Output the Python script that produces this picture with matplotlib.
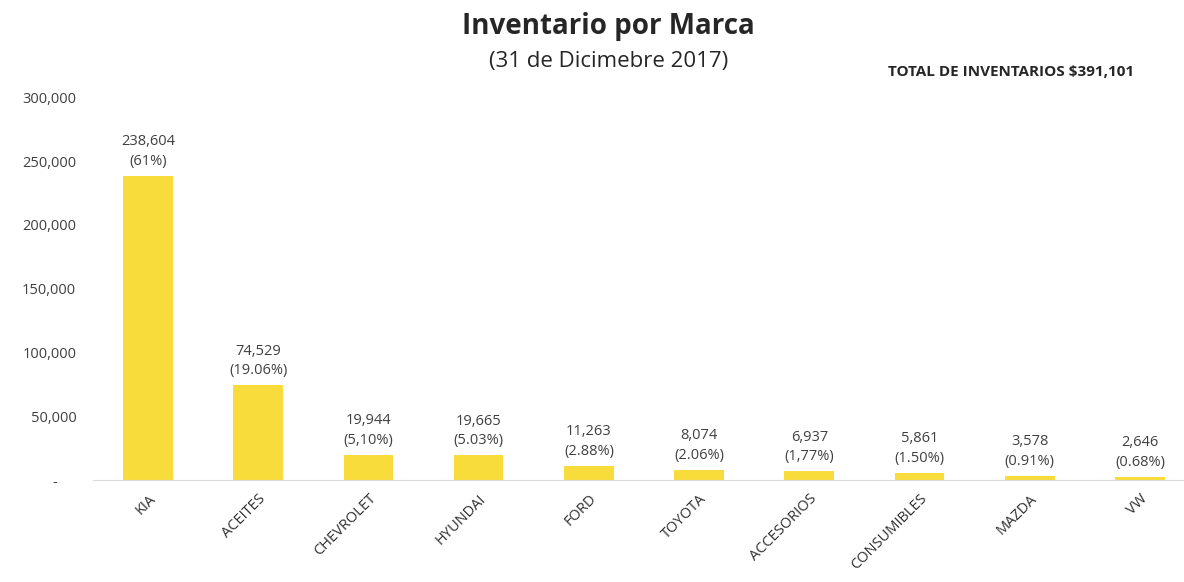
import matplotlib.pyplot as plt
import matplotlib.ticker as mticker

plt.rcParams['font.family'] = ['Open Sans', 'DejaVu Sans']

marcas = ["KIA", "ACEITES", "CHEVROLET", "HYUNDAI", "FORD", "TOYOTA",
          "ACCESORIOS", "CONSUMIBLES", "MAZDA", "VW"]
valores = [238604, 74529, 19944, 19665, 11263, 8074, 6937, 5861, 3578, 2646]
porcentajes = ["(61%)", "(19.06%)", "(5,10%)", "(5.03%)", "(2.88%)", "(2.06%)",
               "(1,77%)", "(1.50%)", "(0.91%)", "(0.68%)"]
total = "TOTAL DE INVENTARIOS $391,101"

fig = plt.figure(figsize=(11.84, 5.82), dpi=100)
ax = fig.add_axes([0.0785, 0.175, 0.9215, 0.658])

x = range(len(marcas))
ax.bar(x, valores, width=0.45, color="#F8DC3C", zorder=2)

for i, v in enumerate(valores):
    ax.text(i, v + 5500, f"{v:,}\n{porcentajes[i]}", ha="center", va="bottom",
            fontsize=10.5, color="#404040", linespacing=1.4)

ax.set_xlim(-0.5, 9.4)
ax.set_ylim(0, 300000)
ax.set_yticks(range(0, 300001, 50000))
ax.yaxis.set_major_formatter(mticker.FuncFormatter(lambda v, p: "-     " if v == 0 else f"{int(v):,}"))
ax.set_xticks(list(x))
ax.set_xticklabels(marcas, rotation=45, ha="right", rotation_mode="anchor",
                   fontsize=10.5, color="#303030")
ax.tick_params(axis="y", length=0, labelsize=10.5, labelcolor="#404040", pad=12)
ax.tick_params(axis="x", length=0, pad=8)

for s in ["top", "right", "left"]:
    ax.spines[s].set_visible(False)
ax.spines["bottom"].set_color("#d9d9d9")

fig.text(0.514, 0.955, "Inventario por Marca", ha="center", va="center",
         fontsize=20, fontweight="bold", color="#262626")
fig.text(0.514, 0.895, "(31 de Dicimebre 2017)", ha="center", va="center",
         fontsize=16, color="#262626")
fig.text(0.854, 0.876, total, ha="center", va="center",
         fontsize=11, fontweight="bold", color="#262626")

fig.savefig("out.png", dpi=100)
